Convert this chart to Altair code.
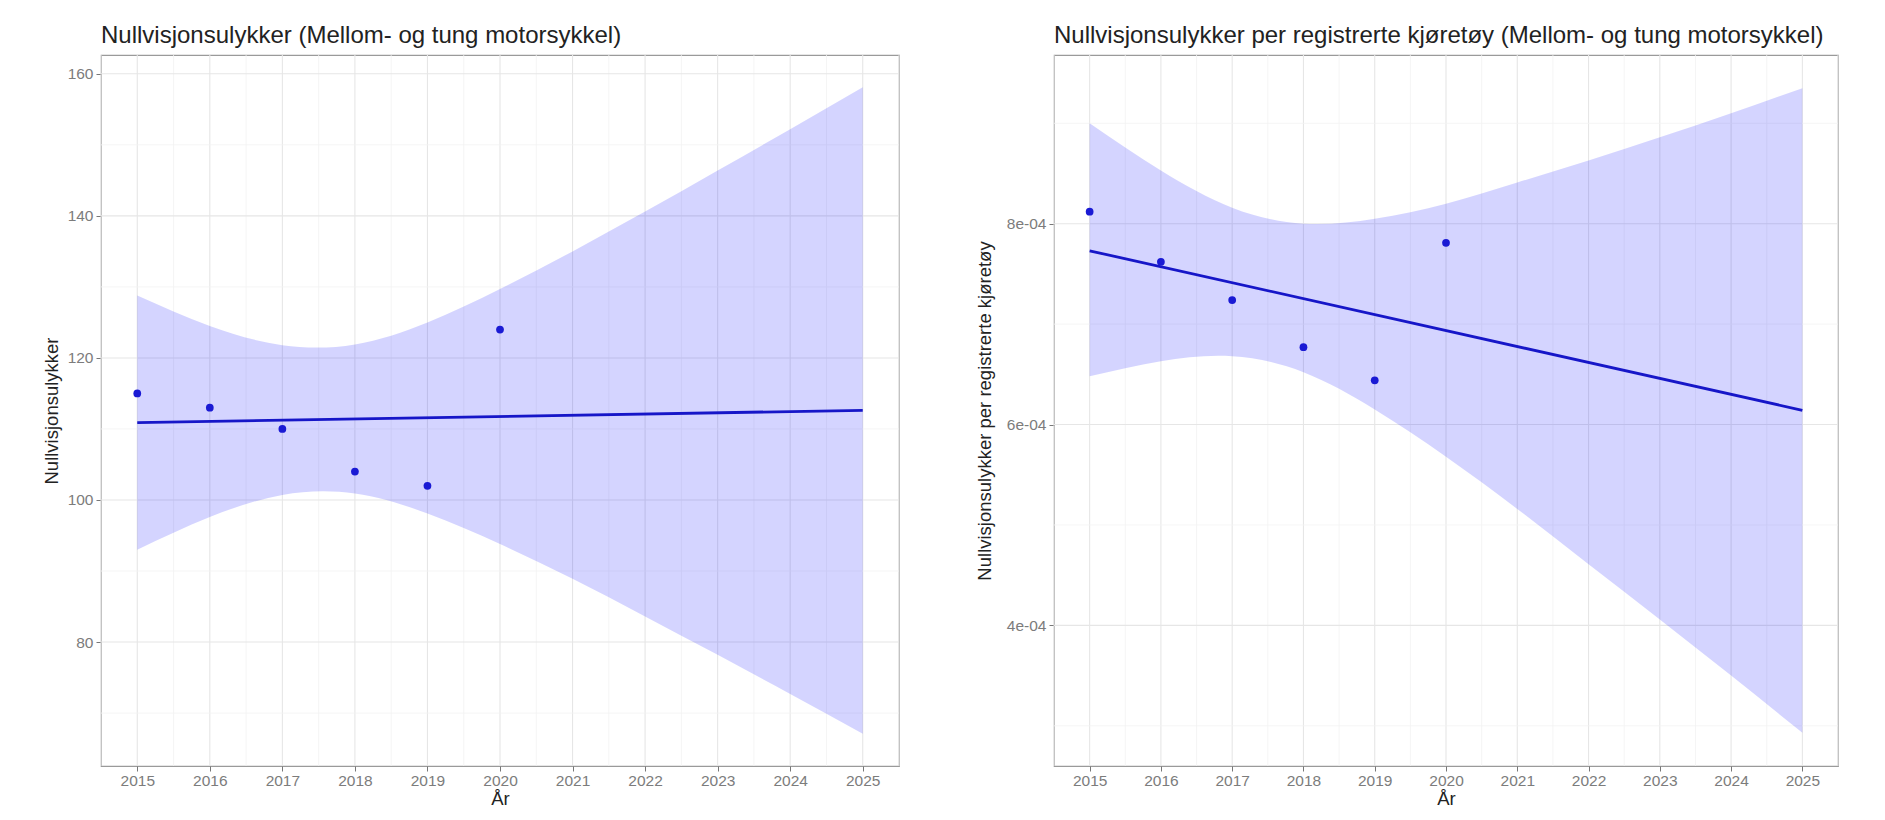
import altair as alt
import pandas as pd

# ---- data ----
years = [2015, 2016, 2017, 2018, 2019, 2020]
ulykker = [115, 113, 110, 104, 102, 124]
per_kjoretoy = [8.12e-4, 7.62e-4, 7.24e-4, 6.77e-4, 6.44e-4, 7.81e-4]

band_years = [2015, 2016, 2017, 2018, 2019, 2020, 2021, 2022, 2023, 2024, 2025]
left_lower = [93.0, 97.6, 100.7, 100.9, 98.1, 93.8, 88.9, 83.6, 78.2, 72.7, 67.1]
left_upper = [128.8, 124.5, 121.8, 121.9, 125.0, 129.7, 135.0, 140.6, 146.4, 152.2, 158.1]
right_lower = [6.48e-4, 6.63e-4, 6.68e-4, 6.52e-4, 6.15e-4, 5.68e-4, 5.16e-4, 4.61e-4, 4.06e-4, 3.50e-4, 2.93e-4]
right_upper = [9.00e-4, 8.53e-4, 8.16e-4, 8.00e-4, 8.05e-4, 8.20e-4, 8.41e-4, 8.63e-4, 8.86e-4, 9.10e-4, 9.35e-4]

x_ticks = [2015, 2016, 2017, 2018, 2019, 2020, 2021, 2022, 2023, 2024, 2025]
x_minor = [2014.5, 2015.5, 2016.5, 2017.5, 2018.5, 2019.5, 2020.5, 2021.5, 2022.5, 2023.5, 2024.5, 2025.5]
left_y_ticks = [80, 100, 120, 140, 160]
left_y_minor = [70, 90, 110, 130, 150]
right_y_ticks = [4e-4, 6e-4, 8e-4]
right_y_minor = [3e-4, 5e-4, 7e-4, 9e-4]

title_left = "Nullvisjonsulykker (Mellom- og tung motorsykkel)"
title_right = "Nullvisjonsulykker per registrerte kjøretøy (Mellom- og tung motorsykkel)"
ytitle_left = "Nullvisjonsulykker"
ytitle_right = "Nullvisjonsulykker per registrerte kjøretøy"
xtitle = "År"

FONT = "Liberation Sans"
BLUE_PT = "#1a1ad4"
BLUE_LN = "#1616c8"


def panel(title, ytitle, vals, lo, hi, ydomain, yticks, yminor, width, ext, tpad, label_expr=None):
    xs = alt.Scale(domain=[2014.5, 2025.5], nice=False, zero=False)
    ys = alt.Scale(domain=ydomain, nice=False, zero=False)

    xaxis = alt.Axis(
        values=x_ticks, format="d", title=xtitle, grid=False, domain=False, tickSize=5,
        tickColor="#777", labelColor="#7c7c7c", labelFontSize=15.5, labelFont=FONT,
        labelPadding=2, labelFlush=False, labelOverlap=False,
        titleFont=FONT, titleFontSize=18.5, titleFontWeight="normal", titleColor="#222",
        titlePadding=1)
    yaxis_kw = dict(
        values=yticks, title=ytitle, grid=False, domain=False, tickSize=5, tickColor="#777",
        labelColor="#7c7c7c", labelFontSize=15.5, labelFont=FONT, labelPadding=3,
        titleFont=FONT, titleFontSize=18.5, titleFontWeight="normal", titleColor="#222",
        titlePadding=tpad, minExtent=ext, maxExtent=ext, labelOverlap=False,
    )
    if label_expr:
        yaxis_kw["labelExpr"] = label_expr
    yaxis = alt.Axis(**yaxis_kw)

    pts = pd.DataFrame({"year": years, "val": vals})
    band = pd.DataFrame({"year": band_years, "lo": lo, "hi": hi})

    vminor = alt.Chart(pd.DataFrame({"v": x_minor})).mark_rule(color="#f3f3f3", strokeWidth=0.8).encode(
        x=alt.X("v:Q", scale=xs, axis=xaxis))
    vmajor = alt.Chart(pd.DataFrame({"v": x_ticks})).mark_rule(color="#e6e6e6", strokeWidth=1.1).encode(
        x=alt.X("v:Q", scale=xs, axis=xaxis))
    hminor = alt.Chart(pd.DataFrame({"v": yminor})).mark_rule(color="#f3f3f3", strokeWidth=0.8).encode(
        y=alt.Y("v:Q", scale=ys, axis=yaxis))
    hmajor = alt.Chart(pd.DataFrame({"v": yticks})).mark_rule(color="#e6e6e6", strokeWidth=1.1).encode(
        y=alt.Y("v:Q", scale=ys, axis=yaxis))

    area = alt.Chart(band).mark_area(color="#0000ff", opacity=0.17, interpolate="natural").encode(
        x=alt.X("year:Q", scale=xs, axis=xaxis),
        y=alt.Y("lo:Q", scale=ys, axis=yaxis),
        y2="hi:Q",
    )

    line = alt.Chart(pts).transform_regression("year", "val", extent=[2015, 2025]).mark_line(
        color=BLUE_LN, strokeWidth=2.8).encode(
        x=alt.X("year:Q", scale=xs, axis=xaxis),
        y=alt.Y("val:Q", scale=ys, axis=yaxis),
    )

    points = alt.Chart(pts).mark_circle(size=60, color=BLUE_PT, opacity=1).encode(
        x=alt.X("year:Q", scale=xs, axis=xaxis),
        y=alt.Y("val:Q", scale=ys, axis=yaxis),
    )

    return alt.layer(vminor, vmajor, hminor, hmajor, area, line, points).properties(
        width=width, height=711,
        title=alt.TitleParams(title, anchor="start", frame="group", fontSize=24, font=FONT,
                              fontWeight="normal", color="#222", offset=6),
    )


left = panel(title_left, ytitle_left, ulykker, left_lower, left_upper, [62.55, 162.65],
             left_y_ticks, left_y_minor, 798, 33, 7)
right = panel(title_right, ytitle_right, per_kjoretoy, right_lower, right_upper, [2.60e-4, 9.68e-4],
              right_y_ticks, right_y_minor, 784, 47, 13,
              label_expr="replace(format(datum.value, '.0e'), 'e-', 'e-0')")

chart = alt.hconcat(left, right, spacing=73).properties(
    padding={"left": 33, "top": 15, "right": 10, "bottom": 4},
    background="white",
).configure_view(stroke="#9a9a9a", strokeWidth=1.2)

chart.save("out.html", embed_options={"renderer": "svg", "actions": False})
